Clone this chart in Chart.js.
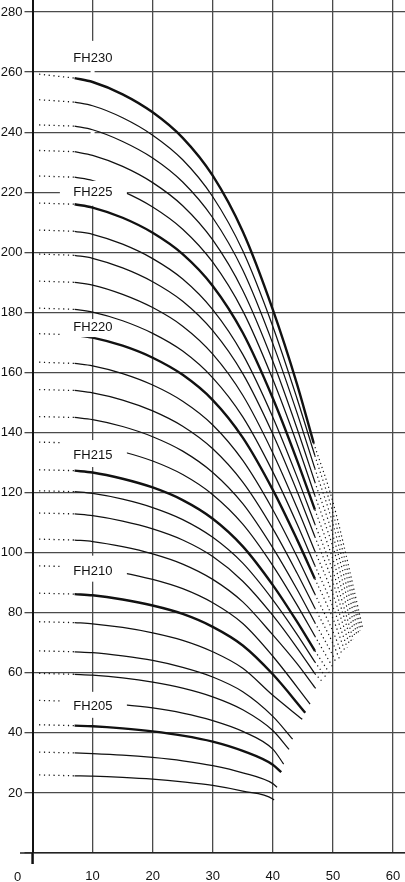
<!DOCTYPE html>
<html>
<head>
<meta charset="utf-8">
<script src="https://cdn.jsdelivr.net/npm/chart.js@4.4.0/dist/chart.umd.min.js"></script>
<style>
html,body{margin:0;padding:0;background:#fff;overflow:hidden}
#wrap{position:relative;width:405px;height:882px}
</style>
</head>
<body>
<div id="wrap"><canvas id="c"></canvas></div>
<script>
// ---- data (flow on x, head on y) ----
const models = ['FH203','FH204','FH205','FH206','FH207','FH208','FH209','FH210','FH211','FH212',
  'FH213','FH214','FH215','FH216','FH217','FH218','FH219','FH220','FH221','FH222',
  'FH223','FH224','FH225','FH226','FH227','FH228','FH229','FH230'];
const boldModels = ['FH205','FH210','FH215','FH220','FH225','FH230'];
const xTicks = [0,10,20,30,40,50,60];
const yTicks = [0,20,40,60,80,100,120,140,160,180,200,220,240,260,280];

const flowPts = [7,10,15,20,25,30,35,40];
const FH203 = [25.7,25.6,25.2,24.6,23.7,22.5,20.6,18.0];
const FH204 = [33.3,33.1,32.6,31.8,30.7,29.1,26.7,23.1];
const FH205 = [42.4,42.2,41.5,40.5,39.1,37.1,34.0,29.4];
const FH206 = [50.5,50.2,49.4,48.3,46.6,44.1,40.5,34.6];
const FH207 = [59.5,59.2,58.3,56.9,54.9,52.0,47.7,40.8];
const FH208 = [67.0,66.7,65.6,64.1,61.8,58.6,53.7,45.5];
const FH209 = [76.7,76.3,75.1,73.3,70.8,67.0,61.5,52.5];
const FH210 = [86.2,85.8,84.4,82.4,79.6,75.3,69.1,59.5];
const FH211 = [95.3,94.8,93.3,91.1,88.0,83.3,76.4,65.5];
const FH212 = [104.2,103.7,102.0,99.6,96.2,91.1,83.6,72.6];
const FH213 = [112.9,112.3,110.5,107.9,104.2,98.7,90.5,79.1];
const FH214 = [120.3,119.7,117.8,115.0,111.0,105.1,96.5,84.3];
const FH215 = [127.3,126.7,124.6,121.7,117.5,111.3,102.1,89.2];
const FH216 = [136.5,135.8,133.6,130.5,126.0,119.3,109.5,95.7];
const FH217 = [145.0,144.3,142.0,138.6,133.8,126.7,116.3,101.6];
const FH218 = [154.0,153.2,150.8,147.2,142.1,134.6,123.5,108.0];
const FH219 = [163.0,162.2,159.6,155.8,150.4,142.5,130.7,114.3];
const FH220 = [172.5,171.6,168.9,164.9,159.2,150.8,138.3,120.9];
const FH221 = [181.0,180.1,177.2,173.0,167.1,158.2,145.2,126.9];
const FH222 = [190.0,189.1,186.0,181.6,175.4,166.1,152.4,133.2];
const FH223 = [199.0,198.0,194.8,190.2,183.7,173.9,159.6,139.5];
const FH224 = [207.0,206.0,202.7,197.9,191.1,180.9,166.0,145.1];
const FH225 = [216.0,214.9,211.5,206.5,199.4,188.8,173.2,151.4];
const FH226 = [225.0,223.9,220.3,215.1,207.7,196.7,180.5,157.7];
const FH227 = [233.5,232.3,228.6,223.2,215.5,204.1,187.3,163.7];
const FH228 = [242.0,240.8,236.9,231.4,223.4,211.5,194.1,169.6];
const FH229 = [250.0,248.8,244.8,239.0,230.8,218.5,200.5,175.3];
const FH230 = [258.0,256.7,252.6,246.6,238.1,225.5,206.9,180.9];
const curves = [FH203,FH204,FH205,FH206,FH207,FH208,FH209,FH210,FH211,FH212,FH213,FH214,FH215,FH216,
  FH217,FH218,FH219,FH220,FH221,FH222,FH223,FH224,FH225,FH226,FH227,FH228,FH229,FH230];

// head at flow 44 (only for the long curves)
const head44 = [null,null,null,null,null,null,null,null,null,63.1,68.4,72.9,77.1,82.7,87.9,93.3,98.8,104.5,
  109.7,115.1,120.6,125.4,130.9,136.4,141.5,146.7,151.5,156.3];
// end of the solid curve
const endFlow = [40.2,40.7,41.4,41.8,42.7,43.3,44.9,45.4,46.2,47,47,47,47,47,47,47,47,47,47,47,47,47,47,47,47,47,47,46.8];
const endHead = [17.6,21.9,26.9,29.6,34.5,37.9,44.5,46.7,49.6,55.1,59.7,63.6,67.3,72.2,76.7,81.5,86.2,91.3,
  95.7,100.5,105.3,109.5,114.3,119.0,123.5,128.0,132.3,136.5];
// dotted low-flow part
const dotStartFlow = 1.1;
const dotStartHead = [26.0,33.6,42.7,50.8,59.8,67.3,77.0,86.5,95.6,104.5,113.2,120.6,127.6,136.8,145.3,154.3,
  163.4,172.9,181.4,190.4,199.4,207.4,216.4,225.4,233.9,242.4,250.8,259.3];
// dotted high-flow continuation (FH212..FH230)
const tailMidFlow = 50;
const tailMidHead = [null,null,null,null,null,65.7,69.8,73.8,78.1,82.0,86.1,90.1,93.8,97.8,101.9,105.8,109.6,113.3,116.9];
const tailEndFlow = [47.29,48.18,48.81,49.36,50.0,50.54,51.07,51.54,52.0,52.39,52.77,53.12,53.41,53.72,54.0,54.27,54.53,54.75,54.95];
const tailEndHead = [54.5,57.2,58.6,60.1,61.8,63.3,64.7,66.0,67.2,68.3,69.3,70.2,71.0,71.8,72.6,73.3,74.0,74.6,75.1];

const labelFlow = 10.05;
const labelNames = ['FH205','FH210','FH215','FH220','FH225','FH230'];
const labelHead = [49.0,94.0,132.5,175.1,220.1,264.7];

// ---- build datasets ----
const INK = '#111';
const datasets = [];
models.forEach((name, i) => {
  const h = curves[i];
  const pts = flowPts.map((f, j) => ({x: f, y: h[j]}));
  if (head44[i] !== null) pts.push({x: 44, y: head44[i]});
  pts.push({x: endFlow[i], y: endHead[i]});
  const bold = boldModels.includes(name);
  datasets.push({label: name, data: pts, borderColor: INK, borderWidth: bold ? 2.4 : 1.25,
    pointRadius: 0, cubicInterpolationMode: 'monotone', fill: false});
  datasets.push({label: name + ' low', data: [{x: dotStartFlow, y: dotStartHead[i]}, {x: flowPts[0], y: h[0]}],
    borderColor: INK, borderWidth: 1.3, borderDash: [1.2, 3.6], pointRadius: 0, fill: false});
  const t = i - 9;
  if (t >= 0) {
    const tp = [{x: endFlow[i], y: endHead[i]}];
    if (tailMidHead[t] !== null) tp.push({x: tailMidFlow, y: tailMidHead[t]});
    tp.push({x: tailEndFlow[t], y: tailEndHead[t]});
    datasets.push({label: name + ' high', data: tp, borderColor: INK, borderWidth: 1.2, borderDash: [1.2, 3.0],
      pointRadius: 0, cubicInterpolationMode: 'monotone', fill: false});
  }
});

const FONT = "'Liberation Sans', Arial, sans-serif";
const GRID = '#4a4a4a';

const overlay = {
  id: 'overlay',
  beforeDatasetsDraw(chart) {
    const {ctx, scales: {x, y}} = chart;
    ctx.save();
    ctx.fillStyle = '#fff';
    const px = x.getPixelForValue(10);
    const t = y.getPixelForValue(270.4), b = y.getPixelForValue(215.5);
    ctx.fillRect(px - 2, t, 4, b - t);
    ctx.restore();
  },
  afterDatasetsDraw(chart) {
    const {ctx, scales: {x, y}} = chart;
    const boxes = {FH205: [-31, 34, -14, 12], FH210: [-31, 34, -15, 11], FH215: [-31, 34, -15, 12],
      FH220: [-31, 20, -8, 10], FH225: [-33, 34, -11, 10], FH230: [-31, 34, -11, 11]};
    ctx.save();
    labelNames.forEach((n, i) => {
      const cx = x.getPixelForValue(labelFlow);
      const cy = y.getPixelForValue(labelHead[i]);
      const bx = boxes[n];
      ctx.fillStyle = '#fff';
      ctx.fillRect(cx + bx[0], cy + bx[2], bx[1] - bx[0], bx[3] - bx[2]);
      ctx.fillStyle = INK;
      ctx.font = '13px ' + FONT;
      ctx.textAlign = 'center';
      ctx.textBaseline = 'middle';
      ctx.fillText(n, cx, cy + 0.5);
    });
    ctx.restore();
  },
  afterDraw(chart) {
    const {ctx, scales: {x, y}} = chart;
    ctx.save();
    const x0 = x.getPixelForValue(0), y0 = y.getPixelForValue(0);
    ctx.strokeStyle = '#222';
    ctx.lineWidth = 1.5;
    ctx.beginPath();
    ctx.moveTo(20, y0); ctx.lineTo(x0, y0);
    ctx.stroke();
    ctx.strokeStyle = INK;
    ctx.lineWidth = 2;
    ctx.beginPath();
    ctx.moveTo(x0, y0); ctx.lineTo(x0, y0 + 11);
    ctx.stroke();
    ctx.fillStyle = INK;
    ctx.font = '13px ' + FONT;
    ctx.textAlign = 'center';
    ctx.textBaseline = 'middle';
    ctx.fillText(String(xTicks[0]), 17.5, y0 + 24.5);
    ctx.restore();
  }
};

new Chart(document.getElementById('c'), {
  type: 'line',
  data: {datasets},
  options: {
    responsive: true,
    maintainAspectRatio: false,
    animation: false,
    layout: {padding: 0},
    plugins: {legend: {display: false}, tooltip: {enabled: false}},
    scales: {
      x: {
        type: 'linear', min: 0, max: 62,
        afterBuildTicks: s => { s.ticks = xTicks.map(v => ({value: v})); },
        afterFit: s => { s.height = 29; s.paddingLeft = 0; s.paddingRight = 0; },
        grid: {color: GRID, lineWidth: 1.3, tickLength: 11, tickWidth: 2,
          tickColor: c => (c.tick && c.tick.value === 0) ? INK : 'rgba(0,0,0,0)'},
        border: {display: true, color: '#222', width: 1.5},
        ticks: {padding: 5, color: INK, font: {family: FONT, size: 13}, maxRotation: 0, autoSkip: false,
          callback: v => v === 0 ? '' : String(v)}
      },
      y: {
        type: 'linear', min: 0, max: 284,
        afterBuildTicks: s => { s.ticks = yTicks.map(v => ({value: v})); },
        afterFit: s => { s.width = 32.5; s.paddingTop = 0; s.paddingBottom = 0; },
        grid: {color: GRID, lineWidth: 1.3, tickLength: 8},
        border: {display: true, color: INK, width: 2},
        ticks: {padding: 2, color: INK, font: {family: FONT, size: 13}, autoSkip: false,
          callback: v => v === 0 ? '' : String(v)}
      }
    }
  },
  plugins: [overlay]
});
</script>
</body>
</html>
